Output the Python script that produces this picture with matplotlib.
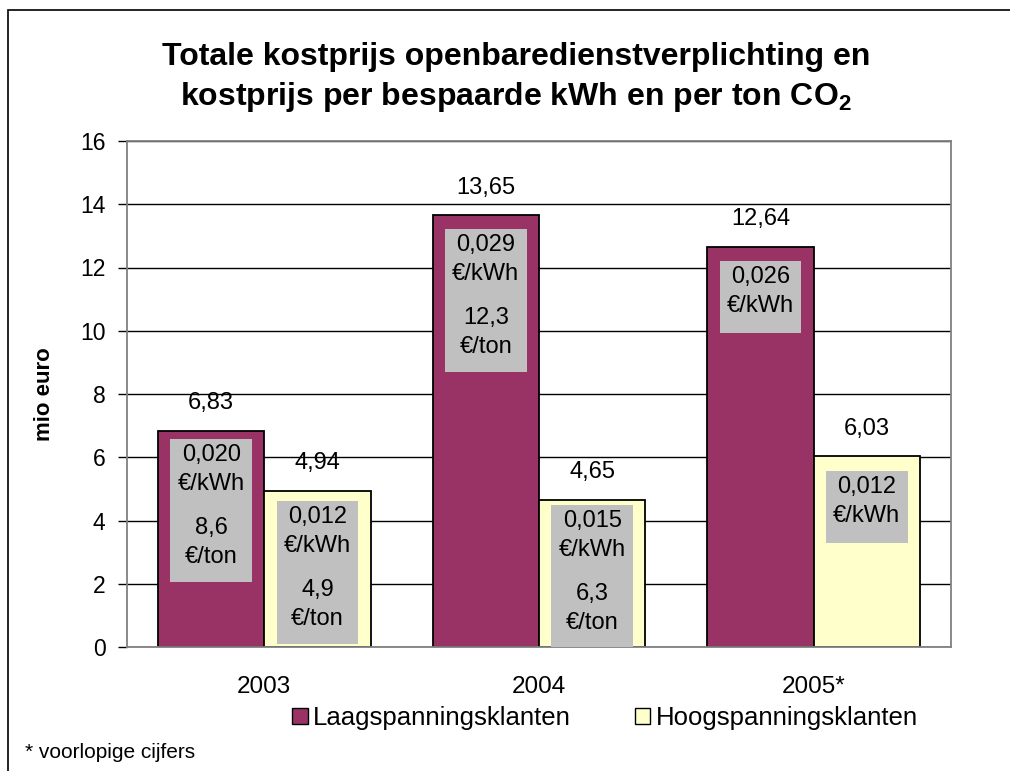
import numpy as np
import matplotlib
matplotlib.use('Agg')
import matplotlib.pyplot as plt
from matplotlib.patches import Rectangle, Patch

plt.rcParams['font.family'] = ['Liberation Sans', 'DejaVu Sans']
plt.rcParams['mathtext.fontset'] = 'custom'
plt.rcParams['mathtext.rm'] = 'Liberation Sans'
plt.rcParams['mathtext.bf'] = 'Liberation Sans:bold'

# gegevens
jaren = ['2003', '2004', '2005*']
laag = [6.83, 13.65, 12.64]
hoog = [4.94, 4.65, 6.03]
laag_kwh = ['0,020', '0,029', '0,026']
hoog_kwh = ['0,012', '0,015', '0,012']
laag_ton = ['8,6', '12,3', None]
hoog_ton = ['4,9', '6,3', None]

# bovenkant van de grijze labelvakjes (in mio euro)
laag_vak_top = [6.58, 13.22, 12.21]
hoog_vak_top = [4.62, 4.49, 5.57]

PAARS = '#993366'
GEEL = '#FFFFCC'
GRIJS = '#C0C0C0'
RAND = '#808080'

fig = plt.figure(figsize=(10.1, 7.71), dpi=100)
ax = fig.add_axes([127 / 1010, 1 - 647 / 771, 824 / 1010, 506 / 771])

x = np.arange(len(jaren))
w = 0.387
PX = 16 / 506  # data-eenheden per pixel

ax.bar(x - w / 2, laag, w, color=PAARS, edgecolor='black', lw=1.3, zorder=2)
ax.bar(x + w / 2, hoog, w, color=GEEL, edgecolor='black', lw=1.3, zorder=2)


def waarde_label(xc, v):
    ax.annotate(f'{v:.2f}'.replace('.', ','), (xc, v), xytext=(0, 20),
                textcoords='offset points', ha='center', va='center', fontsize=17)


def label_vak(xc, top, kwh, ton):
    h = 143 if ton else 72
    ax.add_patch(Rectangle((xc - 0.149, top - h * PX), 0.298, h * PX,
                           fc=GRIJS, ec='none', zorder=3))
    regels = [(16, kwh), (45, '€/kWh')]
    if ton:
        regels += [(89, ton), (118, '€/ton')]
    for dy, s in regels:
        ax.text(xc, top - dy * PX, s, ha='center', va='center', fontsize=17, zorder=4)


for i in range(len(jaren)):
    waarde_label(x[i] - w / 2, laag[i])
    waarde_label(x[i] + w / 2, hoog[i])
    label_vak(x[i] - w / 2, laag_vak_top[i], laag_kwh[i], laag_ton[i])
    label_vak(x[i] + w / 2, hoog_vak_top[i], hoog_kwh[i], hoog_ton[i])

ax.set_xlim(-0.5, 2.5)
ax.set_ylim(0, 16)
ax.set_yticks(range(0, 17, 2))
ax.set_xticks(x)
ax.set_xticklabels(jaren)
ax.tick_params(axis='x', length=0, pad=21, labelsize=17.5)
ax.tick_params(axis='y', length=6.5, width=1, color='black', pad=9, labelsize=16.5)
ax.yaxis.grid(True, color='black', lw=1)
ax.set_axisbelow(True)
for s in ax.spines.values():
    s.set_color(RAND)
    s.set_linewidth(1.3)

fig.text(45 / 1010, 1 - 394 / 771, 'mio euro', rotation=90, ha='center', va='center',
         fontsize=16, weight='bold')

fig.text(0.511, 1 - 57 / 771, 'Totale kostprijs openbaredienstverplichting en',
         ha='center', va='center', fontsize=23, weight='bold')
fig.text(0.511, 1 - 97 / 771, r'kostprijs per bespaarde kWh en per ton CO$_\mathbf{2}$',
         ha='center', va='center', fontsize=23, weight='bold')

handles = [Patch(fc=PAARS, ec='black'), Patch(fc=GEEL, ec='black')]
fig.legend(handles, ['Laagspanningsklanten', 'Hoogspanningsklanten'], loc='center',
           bbox_to_anchor=(0.599, 1 - 718 / 771), ncol=2, frameon=False, fontsize=18.5,
           handlelength=0.6, handleheight=0.6, handletextpad=0.2, columnspacing=2.5,
           borderpad=0)

fig.text(25 / 1010, 1 - 752 / 771, '* voorlopige cijfers', fontsize=15, va='center')

fig.patches.append(Rectangle((8 / 1010, -0.05), 1.2, 1.05 - 10 / 771, transform=fig.transFigure,
                             fill=False, ec='black', lw=1.2))

fig.savefig('out.png', dpi=100)
